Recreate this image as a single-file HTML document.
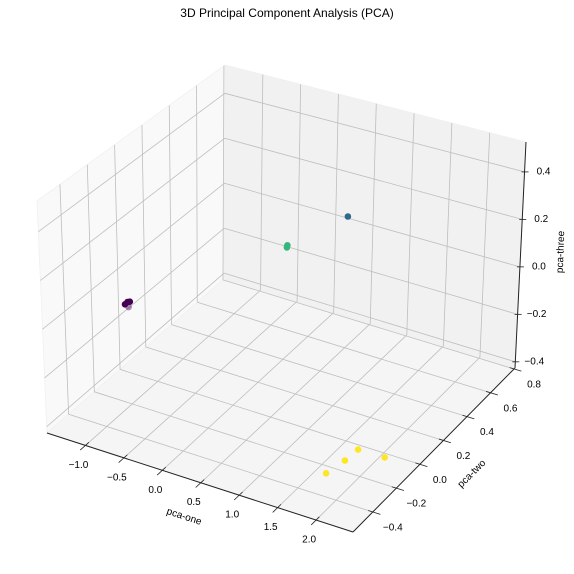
<!DOCTYPE html>
<html><head><meta charset="utf-8">
<style>
html,body{margin:0;padding:0;background:#fff;}
svg{display:block;font-family:"Liberation Sans","DejaVu Sans",sans-serif;}
</style></head>
<body>
<svg id="chart" width="574" height="574" viewBox="0 0 574 574" xmlns="http://www.w3.org/2000/svg">
<rect x="0" y="0" width="574" height="574" fill="#ffffff"/>
<text x="287" y="17" text-anchor="middle" font-size="12" fill="#000">3D Principal Component Analysis (PCA)</text>
<g id="panes"></g><g id="grid"></g><g id="axes"></g><g id="points"></g>
</svg>
<script>
// data
const pcaOne   = [-1.0, -1.05, -1.03, -1.0, -0.04, -0.04, 0.8, 1.82, 1.875, 1.896, 2.24];
const pcaTwo   = [-0.21, -0.208, -0.2, -0.2, 0.448, 0.452, 0.421, -0.37, -0.249, -0.152, -0.148];
const pcaThree = [-0.018, -0.012, -0.004, 0.0, 0.025, 0.032, 0.245, -0.35, -0.35, -0.35, -0.35];
const clusterLabel = [0, 0, 0, 0, 3, 3, 1, 4, 4, 4, 4];
const pointAlpha = [0.45, 1, 1, 1, 1, 1, 1, 1, 1, 1, 1];
const xTicks = [-1.0, -0.5, 0.0, 0.5, 1.0, 1.5, 2.0];
const yTicks = [-0.4, -0.2, 0.0, 0.2, 0.4, 0.6, 0.8];
const zTicks = [-0.4, -0.2, 0.0, 0.2, 0.4];
const xLim = [-1.5, 2.48], yLim = [-0.568, 0.808], zLim = [-0.426, 0.526];

const NS = "http://www.w3.org/2000/svg";
const C = {
  "000":[47,433], "010":[224,279], "110":[515,368], "100":[353,532],
  "001":[37,201], "011":[225,65], "111":[526,142], "101":[357,292]
};
function P(x,y,z){
  const u=(x-xLim[0])/(xLim[1]-xLim[0]), v=(y-yLim[0])/(yLim[1]-yLim[0]), w=(z-zLim[0])/(zLim[1]-zLim[0]);
  let sx=0, sy=0;
  for(const a of [0,1]) for(const b of [0,1]) for(const c of [0,1]){
    const wt=(a?u:1-u)*(b?v:1-v)*(c?w:1-w);
    const p=C[""+a+b+c]; sx+=wt*p[0]; sy+=wt*p[1];
  }
  return [sx,sy];
}
function mk(tag, attrs, parent){
  const e=document.createElementNS(NS,tag);
  for(const k in attrs) e.setAttribute(k,attrs[k]);
  parent.appendChild(e); return e;
}
function fmt(v){ const s=v.toFixed(1); return v<0 ? "\u2212"+s.slice(1) : s; }
const panes=document.getElementById('panes'), grid=document.getElementById('grid'), axes=document.getElementById('axes'), pts=document.getElementById('points');
const [x0,x1]=xLim,[y0,y1]=yLim,[z0,z1]=zLim;
function poly(arr, fill, name){
  const e=mk('polygon',{points:arr.map(p=>p.join(',')).join(' '),fill:fill,stroke:'#f0f0f0','stroke-width':0.8},panes);
  
  
}
poly([P(x0,y0,z0),P(x0,y1,z0),P(x0,y1,z1),P(x0,y0,z1)],'#f9f9f9','left-pane');
poly([P(x0,y1,z0),P(x1,y1,z0),P(x1,y1,z1),P(x0,y1,z1)],'#f1f1f1','back-pane');
poly([P(x0,y0,z0),P(x1,y0,z0),P(x1,y1,z0),P(x0,y1,z0)],'#f5f5f5','floor-pane');
function line(a,b,stroke,w,parent,name){
  const e=mk('line',{x1:a[0],y1:a[1],x2:b[0],y2:b[1],stroke:stroke,'stroke-width':w},parent);
  
  
}
const gc='#bebebe';
xTicks.forEach(t=>{ line(P(t,y0,z0),P(t,y1,z0),gc,0.8,grid,'x-gridline-floor'); line(P(t,y1,z0),P(t,y1,z1),gc,0.8,grid,'x-gridline-back'); });
yTicks.forEach(t=>{ line(P(x0,t,z0),P(x1,t,z0),gc,0.8,grid,'y-gridline-floor'); line(P(x0,t,z0),P(x0,t,z1),gc,0.8,grid,'y-gridline-left'); });
zTicks.forEach(t=>{ line(P(x0,y0,t),P(x0,y1,t),gc,0.8,grid,'z-gridline-left'); line(P(x0,y1,t),P(x1,y1,t),gc,0.8,grid,'z-gridline-back'); });
line(P(x0,y0,z0),P(x1,y0,z0),'#222',1,axes,'x-axis-line');
line(P(x1,y0,z0),P(x1,y1,z0),'#222',1,axes,'y-axis-line');
line(P(x1,y1,z0),P(x1,y1,z1),'#222',1,axes,'z-axis-line');
function txt(p,s,name,anchor,rot){
  const e=mk('text',{x:p[0],y:p[1],'font-size':10,'text-anchor':anchor||'middle','dominant-baseline':'central',fill:'#000'},axes);
  if(rot) e.setAttribute('transform',`rotate(${rot} ${p[0]} ${p[1]})`);
  e.textContent=s;
  
  
}
const yr=y1-y0, xr=x1-x0;
xTicks.forEach(t=>{
  line(P(t,y0+0.02*yr,z0),P(t,y0-0.03*yr,z0),'#222',0.8,axes,'x-tick');
  const p=P(t,y0,z0); txt([p[0]-7,p[1]+20],fmt(t),'x-tick-label');
});
yTicks.forEach(t=>{
  line(P(x1-0.015*xr,t,z0),P(x1+0.025*xr,t,z0),'#222',0.8,axes,'y-tick');
  const p=P(x1,t,z0); txt([p[0]+20,p[1]+16],fmt(t),'y-tick-label');
});
zTicks.forEach(t=>{
  const p=P(x1,y1,t);
  line([p[0]-3,p[1]],[p[0]+4,p[1]],'#222',0.8,axes,'z-tick');
  txt([p[0]+19,p[1]],fmt(t),'z-tick-label');
});
txt([184,517],'pca-one','x-axis-title','middle',18);
txt([472,474],'pca-two','y-axis-title','middle',-45);
txt([561,252],'pca-three','z-axis-title','middle',-88);
const colors=['#440154','#31688e','#21918c','#35b779','#fde725'];
pcaOne.forEach((_,i)=>{
  const p=P(pcaOne[i],pcaTwo[i],pcaThree[i]);
  const c=mk('circle',{cx:p[0].toFixed(1),cy:p[1].toFixed(1),r:3.3,fill:colors[clusterLabel[i]],'fill-opacity':pointAlpha[i]},pts);
  
  
});
</script>
</body></html>
